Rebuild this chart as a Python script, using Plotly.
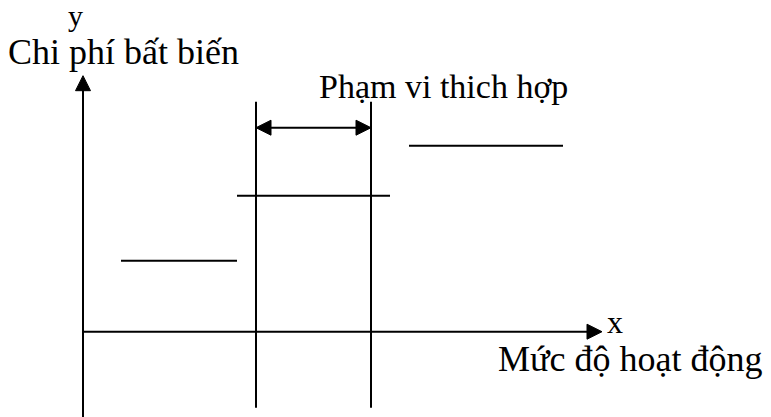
import plotly.graph_objects as go

# ---- data (origin at the axes' crossing point, units ~ pixels) ----
step_x_start = [38, 154, 326]
step_x_end = [154, 307, 480]
step_levels = [71, 136, 186]

range_bounds = [173, 288]          # relevant range (Phạm vi thich hợp)
range_line_bottom = -76
range_line_top = 230
range_arrow_level = 204

x_axis_end = 519
y_axis_end = 256
y_axis_bottom = -86

y_label = "y"
y_title = "Chi phí bất biến"
x_label = "x"
x_title = "Mức độ hoạt động"
range_title = "Phạm vi thich hợp"

FONT = "Liberation Serif"
FS = 36
AL = 15   # arrow head length
AW = 7.5  # arrow head half width

fig = go.Figure()

def seg(x0, y0, x1, y1, w=2):
    fig.add_trace(go.Scatter(x=[x0, x1], y=[y0, y1], mode="lines",
                             line=dict(color="black", width=w),
                             hoverinfo="skip", showlegend=False))

def head(tx, ty, dx, dy):
    bx, by = tx - dx * AL, ty - dy * AL
    px, py = -dy * AW, dx * AW
    fig.add_trace(go.Scatter(x=[tx, bx + px, bx - px, tx], y=[ty, by + py, by - py, ty],
                             mode="lines", fill="toself", fillcolor="black",
                             line=dict(color="black", width=1),
                             hoverinfo="skip", showlegend=False))

# axes
seg(0, y_axis_bottom, 0, y_axis_end - AL + 1)
head(0, y_axis_end, 0, 1)
seg(0, 0, x_axis_end - AL + 1, 0)
head(x_axis_end, 0, 1, 0)

# step fixed cost lines
for xs, xe, lv in zip(step_x_start, step_x_end, step_levels):
    seg(xs, lv, xe, lv)

# relevant range verticals
for xb in range_bounds:
    seg(xb, range_line_bottom, xb, range_line_top)

# double arrow
seg(range_bounds[0] + AL - 1, range_arrow_level, range_bounds[1] - AL + 1, range_arrow_level)
head(range_bounds[0], range_arrow_level, -1, 0)
head(range_bounds[1], range_arrow_level, 1, 0)

def label(text, x, y, size=FS):
    fig.add_annotation(x=x, y=y, text=text, showarrow=False, xanchor="center",
                       yanchor="middle", font=dict(family=FONT, size=size, color="black"))

label(y_label, -8, 316, size=30)
label(y_title, 40, 280)
label(range_title, 360, 245, size=34)
label(x_label, 532, 10, size=32)
label(x_title, 547, -27)

fig.update_layout(
    width=771, height=417,
    margin=dict(l=0, r=0, t=0, b=0),
    paper_bgcolor="white", plot_bgcolor="white",
    xaxis=dict(range=[-83, 688], visible=False, fixedrange=True),
    yaxis=dict(range=[-85.3, 331.7], visible=False, fixedrange=True),
    showlegend=False,
)

fig.write_html("out.html", config={"displayModeBar": False},
               post_script="document.body.style.margin='0';document.body.style.overflow='hidden';")
